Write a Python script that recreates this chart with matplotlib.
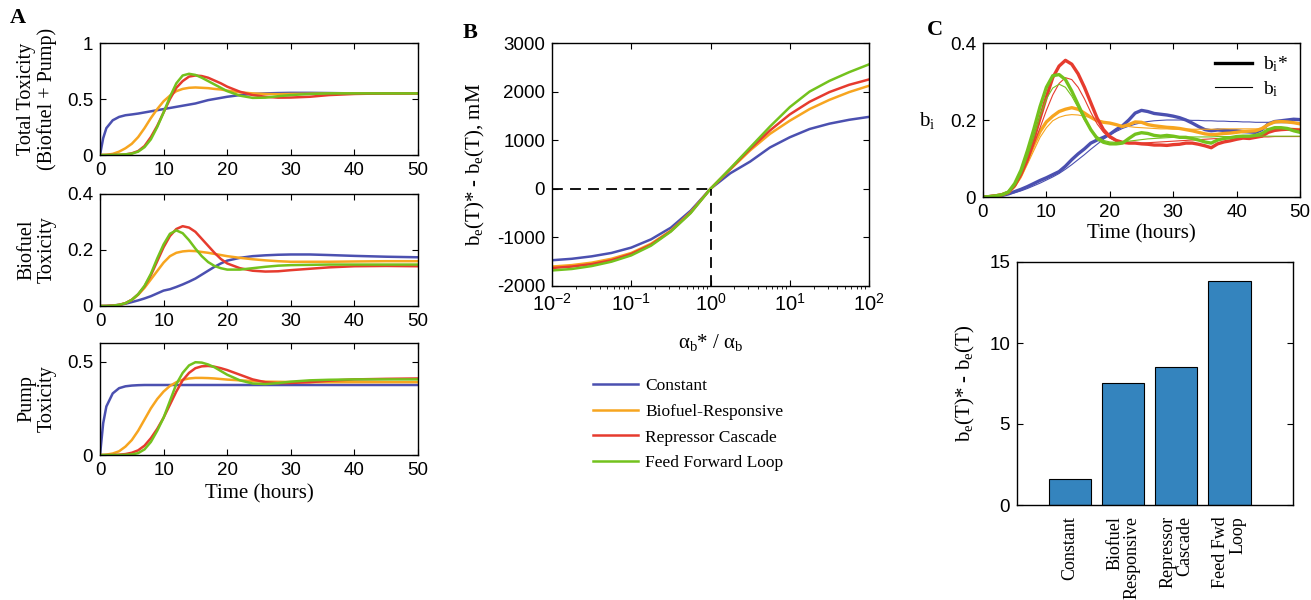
import matplotlib
matplotlib.use("Agg")
import matplotlib.pyplot as plt
from matplotlib.ticker import FormatStrFormatter, FuncFormatter
import numpy as np

plt.rcParams['font.family'] = ['Liberation Sans', 'DejaVu Sans']
plt.rcParams['axes.unicode_minus'] = False
plt.rcParams['mathtext.fontset'] = 'custom'
plt.rcParams['mathtext.rm'] = 'Liberation Serif'
plt.rcParams['mathtext.it'] = 'Liberation Serif:italic'
plt.rcParams['mathtext.bf'] = 'Liberation Serif:bold'
plt.rcParams['mathtext.sf'] = 'Liberation Sans'

SERIF = 'Liberation Serif'
names = ['Constant', 'Biofuel-Responsive', 'Repressor Cascade', 'Feed Forward Loop']
colors = ['#4B50B0', '#F7A51F', '#E63B2E', '#73C21D']

# ---- panel A: toxicity over time ----
tA = [0, 0.5, 1, 2, 3, 4, 5, 6, 7, 8, 9, 10, 11, 12, 13, 14, 15, 16, 17, 18, 19, 20,
      22, 24, 26, 28, 30, 33, 36, 40, 45, 50]

total_const = [0, 0.15, 0.24, 0.31, 0.34, 0.355, 0.362, 0.37, 0.38, 0.39, 0.40, 0.41, 0.42, 0.43,
               0.44, 0.45, 0.46, 0.475, 0.49, 0.50, 0.51, 0.52, 0.535, 0.545, 0.55, 0.553,
               0.555, 0.555, 0.553, 0.55, 0.55, 0.55]
total_bio = [0, 0, 0.002, 0.01, 0.03, 0.06, 0.10, 0.16, 0.24, 0.33, 0.41, 0.48, 0.53, 0.57,
             0.59, 0.60, 0.603, 0.60, 0.597, 0.59, 0.585, 0.575, 0.56, 0.55, 0.545, 0.543,
             0.545, 0.547, 0.548, 0.55, 0.55, 0.55]
total_rep = [0, 0, 0, 0.001, 0.002, 0.005, 0.015, 0.035, 0.08, 0.16, 0.26, 0.38, 0.50, 0.60,
             0.66, 0.70, 0.71, 0.705, 0.69, 0.665, 0.64, 0.61, 0.565, 0.535, 0.52, 0.512,
             0.513, 0.52, 0.535, 0.545, 0.55, 0.55]
total_ffl = [0, 0, 0, 0.001, 0.003, 0.006, 0.012, 0.03, 0.07, 0.14, 0.25, 0.38, 0.52, 0.64,
             0.71, 0.725, 0.715, 0.69, 0.66, 0.63, 0.60, 0.57, 0.53, 0.51, 0.512, 0.525,
             0.535, 0.545, 0.55, 0.55, 0.55, 0.55]

bio_const = [0, 0, 0.0005, 0.002, 0.004, 0.008, 0.014, 0.02, 0.027, 0.035, 0.045, 0.055, 0.06,
             0.068, 0.077, 0.087, 0.098, 0.112, 0.126, 0.14, 0.152, 0.162, 0.172, 0.178,
             0.181, 0.183, 0.184, 0.184, 0.182, 0.179, 0.176, 0.174]
bio_bio = [0, 0, 0, 0.001, 0.004, 0.01, 0.022, 0.04, 0.065, 0.095, 0.125, 0.155, 0.178, 0.19,
           0.195, 0.197, 0.196, 0.193, 0.19, 0.186, 0.182, 0.178, 0.172, 0.167, 0.163, 0.16,
           0.158, 0.158, 0.158, 0.159, 0.16, 0.16]
bio_rep = [0, 0, 0, 0.001, 0.004, 0.01, 0.022, 0.042, 0.07, 0.11, 0.16, 0.21, 0.25, 0.275,
           0.285, 0.28, 0.265, 0.24, 0.215, 0.19, 0.168, 0.152, 0.135, 0.126, 0.123, 0.124,
           0.128, 0.133, 0.138, 0.142, 0.143, 0.142]
bio_ffl = [0, 0, 0, 0.001, 0.004, 0.01, 0.022, 0.042, 0.072, 0.115, 0.17, 0.22, 0.258, 0.27,
           0.26, 0.235, 0.205, 0.178, 0.157, 0.143, 0.135, 0.13, 0.13, 0.135, 0.14, 0.144,
           0.146, 0.147, 0.148, 0.148, 0.148, 0.148]

pump_const = [0, 0.17, 0.26, 0.33, 0.358, 0.368, 0.372, 0.374, 0.375, 0.375, 0.375, 0.375,
              0.375, 0.375, 0.375, 0.375, 0.375, 0.375, 0.375, 0.375, 0.375, 0.375, 0.375,
              0.375, 0.375, 0.375, 0.375, 0.375, 0.375, 0.375, 0.375, 0.375]
pump_bio = [0, 0, 0.002, 0.008, 0.02, 0.045, 0.08, 0.13, 0.19, 0.25, 0.30, 0.34, 0.37, 0.39,
            0.403, 0.41, 0.413, 0.413, 0.412, 0.41, 0.407, 0.404, 0.40, 0.396, 0.393, 0.392,
            0.391, 0.39, 0.39, 0.39, 0.39, 0.39]
pump_rep = [0, 0, 0, 0, 0.002, 0.005, 0.012, 0.025, 0.05, 0.09, 0.14, 0.20, 0.27, 0.34, 0.40,
            0.44, 0.465, 0.475, 0.477, 0.473, 0.465, 0.455, 0.43, 0.405, 0.39, 0.385, 0.386,
            0.39, 0.398, 0.405, 0.408, 0.41]
pump_ffl = [0, 0, 0, 0, 0, 0.001, 0.003, 0.01, 0.03, 0.07, 0.13, 0.20, 0.29, 0.38, 0.44, 0.48,
            0.497, 0.495, 0.485, 0.47, 0.45, 0.43, 0.40, 0.383, 0.38, 0.385, 0.393, 0.40,
            0.403, 0.405, 0.405, 0.405]

# ---- panel B: b_e(T)* - b_e(T) vs alpha ratio ----
log_ratio = [-2, -1.75, -1.5, -1.25, -1, -0.75, -0.5, -0.25, 0, 0.25, 0.5, 0.75, 1, 1.25,
             1.5, 1.75, 2]
diff_const = [-1470, -1440, -1390, -1320, -1210, -1040, -800, -450, 0, 320, 560, 850, 1060,
              1230, 1340, 1420, 1480]
diff_bio = [-1600, -1570, -1520, -1440, -1320, -1130, -860, -480, 0, 400, 790, 1130, 1400,
            1640, 1830, 1990, 2120]
diff_rep = [-1630, -1600, -1550, -1470, -1340, -1150, -870, -490, 0, 410, 820, 1200, 1530,
            1790, 1990, 2140, 2250]
diff_ffl = [-1680, -1650, -1590, -1500, -1370, -1170, -880, -500, 0, 420, 850, 1280, 1680,
            2000, 2220, 2400, 2560]

# ---- panel C: b_i traces (thick = b_i*, thin = b_i) ----
tC = list(range(51))
bi_star_const = [0, 0.001, 0.002, 0.004, 0.008, 0.014, 0.02, 0.027, 0.035, 0.043, 0.05, 0.058,
                 0.066, 0.08, 0.097, 0.112, 0.125, 0.14, 0.148, 0.155, 0.163, 0.175, 0.185,
                 0.2, 0.218, 0.225, 0.222, 0.217, 0.215, 0.213, 0.21, 0.206, 0.2, 0.192, 0.183,
                 0.175, 0.172, 0.174, 0.173, 0.172, 0.172, 0.17, 0.169, 0.168, 0.175, 0.19,
                 0.196, 0.198, 0.2, 0.202, 0.201]
bi_const = [0, 0.0005, 0.002, 0.004, 0.007, 0.011, 0.016, 0.022, 0.029, 0.036, 0.044, 0.052,
            0.061, 0.072, 0.084, 0.097, 0.11, 0.124, 0.137, 0.15, 0.161, 0.17, 0.178, 0.184,
            0.189, 0.193, 0.196, 0.198, 0.199, 0.2, 0.2, 0.2, 0.2, 0.199, 0.199, 0.198, 0.198,
            0.197, 0.197, 0.196, 0.196, 0.195, 0.195, 0.194, 0.194, 0.194, 0.193, 0.193,
            0.193, 0.192, 0.192]
bi_star_bio = [0, 0.001, 0.003, 0.006, 0.012, 0.03, 0.058, 0.095, 0.135, 0.17, 0.195, 0.21,
               0.222, 0.228, 0.232, 0.228, 0.218, 0.207, 0.198, 0.194, 0.192, 0.188, 0.183,
               0.188, 0.195, 0.194, 0.188, 0.185, 0.183, 0.181, 0.18, 0.178, 0.175, 0.172,
               0.168, 0.164, 0.162, 0.163, 0.165, 0.166, 0.168, 0.17, 0.171, 0.172, 0.178,
               0.188, 0.195, 0.196, 0.195, 0.193, 0.19]
bi_bio = [0, 0.001, 0.003, 0.006, 0.011, 0.025, 0.05, 0.085, 0.12, 0.155, 0.18, 0.198, 0.207,
          0.212, 0.214, 0.213, 0.21, 0.206, 0.2, 0.195, 0.191, 0.188, 0.185, 0.183, 0.181,
          0.18, 0.179, 0.178, 0.177, 0.177, 0.176, 0.176, 0.176, 0.176, 0.176, 0.176, 0.176,
          0.176, 0.177, 0.177, 0.177, 0.177, 0.177, 0.177, 0.177, 0.178, 0.178, 0.178,
          0.178, 0.178, 0.178]
bi_star_rep = [0, 0.001, 0.003, 0.006, 0.012, 0.03, 0.06, 0.1, 0.15, 0.205, 0.26, 0.31, 0.34,
               0.355, 0.345, 0.32, 0.285, 0.245, 0.205, 0.175, 0.157, 0.147, 0.142, 0.14,
               0.14, 0.138, 0.137, 0.135, 0.135, 0.134, 0.136, 0.137, 0.14, 0.14, 0.137,
               0.133, 0.128, 0.138, 0.143, 0.146, 0.15, 0.153, 0.152, 0.155, 0.158, 0.168,
               0.173, 0.175, 0.176, 0.175, 0.173]
bi_rep = [0, 0.001, 0.003, 0.006, 0.012, 0.028, 0.055, 0.09, 0.135, 0.18, 0.225, 0.265, 0.295,
          0.31, 0.305, 0.285, 0.255, 0.22, 0.19, 0.168, 0.153, 0.145, 0.141, 0.139, 0.139,
          0.14, 0.141, 0.142, 0.143, 0.144, 0.145, 0.146, 0.147, 0.148, 0.149, 0.15, 0.151,
          0.152, 0.152, 0.153, 0.154, 0.154, 0.155, 0.155, 0.156, 0.156, 0.157, 0.157,
          0.157, 0.157, 0.157]
bi_star_ffl = [0, 0.001, 0.003, 0.006, 0.013, 0.035, 0.07, 0.12, 0.175, 0.235, 0.285, 0.315,
               0.318, 0.305, 0.275, 0.24, 0.205, 0.175, 0.152, 0.142, 0.138, 0.138, 0.14,
               0.152, 0.163, 0.167, 0.165, 0.16, 0.158, 0.16, 0.158, 0.155, 0.155, 0.152,
               0.148, 0.143, 0.14, 0.148, 0.152, 0.154, 0.157, 0.158, 0.158, 0.16, 0.165,
               0.175, 0.18, 0.18, 0.178, 0.172, 0.168]
bi_ffl = [0, 0.001, 0.003, 0.006, 0.012, 0.03, 0.06, 0.105, 0.155, 0.21, 0.255, 0.283, 0.293,
          0.285, 0.262, 0.232, 0.2, 0.175, 0.157, 0.147, 0.143, 0.142, 0.143, 0.145, 0.147,
          0.149, 0.151, 0.152, 0.153, 0.154, 0.155, 0.155, 0.155, 0.156, 0.156, 0.156, 0.156,
          0.157, 0.157, 0.157, 0.157, 0.157, 0.157, 0.158, 0.158, 0.158, 0.158, 0.158,
          0.158, 0.158, 0.158]

bar_labels = ['Constant', 'Biofuel\nResponsive', 'Repressor\nCascade', 'Feed Fwd\nLoop']
bar_values = [1.6, 7.55, 8.5, 13.85]

W, H = 1311, 600
fig = plt.figure(figsize=(W / 100, H / 100), dpi=100)


def px_axes(x0, y0, x1, y1):
    return fig.add_axes([x0 / W, 1 - y1 / H, (x1 - x0) / W, (y1 - y0) / H])


def style(ax):
    ax.tick_params(direction='in', top=True, right=True, length=4, width=0.8,
                   labelsize=13.5, pad=5)
    for s in ax.spines.values():
        s.set_linewidth(1.0)


# panel A
a_sets = [
    ((100, 43, 418, 155), [total_const, total_bio, total_rep, total_ffl], 1.0, [0, 0.5, 1],
     'Total Toxicity\n(Biofuel + Pump)'),
    ((100, 194, 418, 306), [bio_const, bio_bio, bio_rep, bio_ffl], 0.4, [0, 0.2, 0.4],
     'Biofuel\nToxicity'),
    ((100, 343, 418, 455), [pump_const, pump_bio, pump_rep, pump_ffl], 0.6, [0, 0.5],
     'Pump\nToxicity'),
]
for i, (box, series, ytop, yt, lab) in enumerate(a_sets):
    ax = px_axes(*box)
    for ys, c in zip(series, colors):
        ax.plot(tA, ys, color=c, lw=1.8)
    ax.set_xlim(0, 50)
    ax.set_ylim(0, ytop)
    ax.set_xticks([0, 10, 20, 30, 40, 50])
    ax.set_yticks(yt)
    ax.yaxis.set_major_formatter(FormatStrFormatter('%g'))
    style(ax)
    ax.set_ylabel(lab, family=SERIF, fontsize=14.5, linespacing=1.1)
    ax.yaxis.set_label_coords(-0.135, 0.5)
    if i == 2:
        ax.set_xlabel('Time (hours)', family=SERIF, fontsize=15)
        ax.xaxis.set_label_coords(0.5, -0.26)

fig.text(18 / W, 1 - 18 / H, 'A', family=SERIF, fontsize=16, fontweight='bold',
         ha='center', va='center')

# panel B
axb = px_axes(552, 43, 869, 286)
ratio = 10.0 ** np.array(log_ratio)
for ys, c, n in zip([diff_const, diff_bio, diff_rep, diff_ffl], colors, names):
    axb.plot(ratio, ys, color=c, lw=1.8, label=n)
axb.plot([1e-2, 1], [0, 0], 'k--', lw=1.3, dashes=(6, 4))
axb.plot([1, 1], [-2000, 0], 'k--', lw=1.3, dashes=(6, 4))
axb.set_xscale('log')
axb.set_xlim(1e-2, 1e2)
axb.set_ylim(-2000, 3000)
axb.set_yticks(range(-2000, 3001, 1000))
axb.xaxis.set_major_formatter(FuncFormatter(lambda v, p: r'$\mathsf{10^{%d}}$' % round(np.log10(v))))
style(axb)
axb.tick_params(axis='x', labelsize=14.5)
axb.set_ylabel(r'b$_\mathrm{e}$(T)* - b$_\mathrm{e}$(T), mM', family=SERIF, fontsize=15)
axb.yaxis.set_label_coords(-0.205, 0.5)
axb.set_xlabel(r'α$_\mathrm{b}$* / α$_\mathrm{b}$', family=SERIF, fontsize=15)
axb.xaxis.set_label_coords(0.5, -0.19)
axb.legend(loc='upper left', bbox_to_anchor=(593 / W, 1 - 378 / H), bbox_transform=fig.transFigure,
           frameon=False, prop={'family': SERIF, 'size': 12.5}, handlelength=2.6,
           handletextpad=0.4, borderpad=0, borderaxespad=0, labelspacing=0.55)
fig.text(470 / W, 1 - 33 / H, 'B', family=SERIF, fontsize=16, fontweight='bold',
         ha='center', va='center')

# panel C top
axc = px_axes(983, 43, 1300, 197)
for ys, yt_, c in zip([bi_star_const, bi_star_bio, bi_star_rep, bi_star_ffl],
                      [bi_const, bi_bio, bi_rep, bi_ffl], colors):
    axc.plot(tC, yt_, color=c, lw=0.8)
    axc.plot(tC, ys, color=c, lw=2.4)
axc.plot([], [], color='k', lw=2.4, label=r'b$_\mathrm{i}$*')
axc.plot([], [], color='k', lw=0.8, label=r'b$_\mathrm{i}$')
axc.set_xlim(0, 50)
axc.set_ylim(0, 0.4)
axc.set_xticks([0, 10, 20, 30, 40, 50])
axc.set_yticks([0, 0.2, 0.4])
axc.yaxis.set_major_formatter(FormatStrFormatter('%g'))
style(axc)
axc.set_xlabel('Time (hours)', family=SERIF, fontsize=15)
axc.xaxis.set_label_coords(0.5, -0.175)
axc.set_ylabel(r'b$_\mathrm{i}$', family=SERIF, fontsize=15, rotation=0, va='center')
axc.yaxis.set_label_coords(-0.177, 0.5)
axc.legend(loc='upper right', frameon=False, prop={'family': SERIF, 'size': 14},
           handlelength=1.9, handletextpad=0.6, borderaxespad=0.2, labelspacing=0.25)
fig.text(935 / W, 1 - 30 / H, 'C', family=SERIF, fontsize=16, fontweight='bold',
         ha='center', va='center')

# panel C bottom
axd = px_axes(1017, 262, 1293, 505)
xpos = np.arange(1, len(bar_values) + 1)
axd.bar(xpos, bar_values, width=0.8, color='#3484BE', edgecolor='black', linewidth=0.8)
axd.set_xlim(0, 5.2)
axd.set_ylim(0, 15)
axd.set_yticks([0, 5, 10, 15])
style(axd)
axd.set_xticks(xpos)
axd.set_xticklabels(bar_labels, rotation=90, family=SERIF, fontsize=13, va='top',
                    ha='center', multialignment='right', linespacing=1.0)
axd.tick_params(axis='x', length=0, pad=8)
axd.set_ylabel(r'b$_\mathrm{e}$(T)* - b$_\mathrm{e}$(T)', family=SERIF, fontsize=15)
axd.yaxis.set_label_coords(-0.145, 0.5)

fig.savefig('out.png', dpi=100)
